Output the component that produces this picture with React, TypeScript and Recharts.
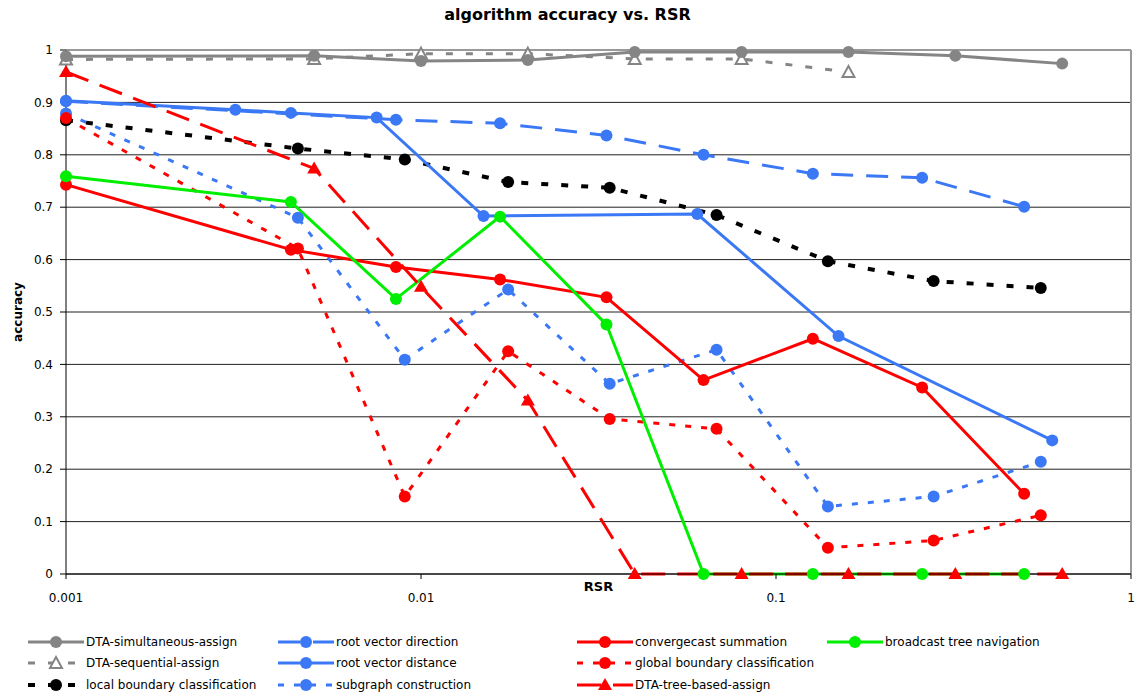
import React from 'react';
import {
  LineChart,
  Line,
  XAxis,
  YAxis,
  CartesianGrid,
  Legend,
  ReferenceLine,
} from 'recharts';

const FONT = '"DejaVu Sans", Verdana, sans-serif';

// RSR values (x) and accuracy (y)
const doublingRsr = [0.001, 0.005, 0.01, 0.02, 0.04, 0.08, 0.16, 0.32, 0.64];
const simultaneousAcc = [0.988, 0.989, 0.979, 0.981, 0.996, 0.996, 0.996, 0.989, 0.974];
const treeBasedAcc = [0.958, 0.774, 0.548, 0.331, 0, 0, 0, 0, 0];

const sequentialRsr = [0.001, 0.005, 0.01, 0.02, 0.04, 0.08, 0.16];
const sequentialAcc = [0.982, 0.983, 0.993, 0.993, 0.983, 0.983, 0.958];

const boundaryRsr = [0.001, 0.0045, 0.009, 0.0176, 0.034, 0.068, 0.14, 0.278, 0.557];
const localBoundaryAcc = [0.866, 0.812, 0.791, 0.748, 0.737, 0.685, 0.597, 0.559, 0.546];
const globalBoundaryAcc = [0.87, 0.621, 0.148, 0.425, 0.296, 0.277, 0.05, 0.064, 0.112];
const subgraphAcc = [0.879, 0.68, 0.409, 0.543, 0.363, 0.428, 0.129, 0.148, 0.214];

const treeRsr = [0.001, 0.0043, 0.0085, 0.0167, 0.0333, 0.0625, 0.127, 0.258, 0.5];
const convergecastAcc = [0.743, 0.619, 0.586, 0.562, 0.528, 0.37, 0.449, 0.356, 0.153];
const broadcastAcc = [0.759, 0.71, 0.525, 0.682, 0.476, 0, 0, 0, 0];

const directionRsr = [0.001, 0.0085, 0.0167, 0.0333, 0.0625, 0.127, 0.258, 0.5];
const directionAcc = [0.902, 0.867, 0.86, 0.837, 0.8, 0.764, 0.756, 0.701];

const distanceRsr = [0.001, 0.003, 0.0043, 0.0075, 0.015, 0.06, 0.15, 0.6];
const distanceAcc = [0.903, 0.886, 0.88, 0.871, 0.683, 0.687, 0.454, 0.255];

const xTicks = [0.001, 0.01, 0.1, 1];
const yTicks = [0, 0.1, 0.2, 0.3, 0.4, 0.5, 0.6, 0.7, 0.8, 0.9, 1];

const GRAY = '#858585';
const BLUE = '#3b78f5';
const RED = '#ff0000';
const GREEN = '#00ee00';

type Marker = 'circle' | 'triangle' | 'hollow';

type Series = {
  name: string;
  data: { rsr: number; acc: number }[];
  color: string;
  width: number;
  dash?: string;
  marker: Marker;
  z: number;
};

const zip = (xs: number[], ys: number[]) => xs.map((x, i) => ({ rsr: x, acc: ys[i] }));

// legend order (column-major, 3 rows)
const series: Series[] = [
  { name: 'DTA-simultaneous-assign', data: zip(doublingRsr, simultaneousAcc), color: GRAY, width: 3, marker: 'circle', z: 1 },
  { name: 'DTA-sequential-assign', data: zip(sequentialRsr, sequentialAcc), color: GRAY, width: 3, dash: '7 13', marker: 'hollow', z: 0 },
  { name: 'local boundary classification', data: zip(boundaryRsr, localBoundaryAcc), color: '#000', width: 4, dash: '7 13', marker: 'circle', z: 2 },
  { name: 'root vector direction', data: zip(directionRsr, directionAcc), color: BLUE, width: 3, dash: '22 13', marker: 'circle', z: 3 },
  { name: 'root vector distance', data: zip(distanceRsr, distanceAcc), color: BLUE, width: 3, marker: 'circle', z: 4 },
  { name: 'subgraph construction', data: zip(boundaryRsr, subgraphAcc), color: BLUE, width: 3, dash: '6 10', marker: 'circle', z: 5 },
  { name: 'convergecast summation', data: zip(treeRsr, convergecastAcc), color: RED, width: 3, marker: 'circle', z: 7 },
  { name: 'global boundary classification', data: zip(boundaryRsr, globalBoundaryAcc), color: RED, width: 3, dash: '6 10', marker: 'circle', z: 6 },
  { name: 'DTA-tree-based-assign', data: zip(doublingRsr, treeBasedAcc), color: RED, width: 3, dash: '24 12', marker: 'triangle', z: 9 },
  { name: 'broadcast tree navigation', data: zip(treeRsr, broadcastAcc), color: GREEN, width: 3, marker: 'circle', z: 8 },
];

function markerShape(marker: Marker, color: string, cx: number, cy: number, key?: string) {
  if (marker === 'circle') return <circle key={key} cx={cx} cy={cy} r={6} fill={color} />;
  if (marker === 'triangle')
    return <path key={key} d={`M${cx},${cy - 7}L${cx + 7},${cy + 5}L${cx - 7},${cy + 5}Z`} fill={color} />;
  return (
    <path
      key={key}
      d={`M${cx},${cy - 6}L${cx + 6},${cy + 5}L${cx - 6},${cy + 5}Z`}
      fill="#fff"
      stroke={color}
      strokeWidth={2}
    />
  );
}

const makeDot = (marker: Marker, color: string) => (props: any) => {
  const { cx, cy, index } = props;
  const key = `dot-${index}`;
  if (cx == null || cy == null) return <g key={key} />;
  return markerShape(marker, color, cx, cy, key);
};

const legendCols = [28, 278, 577, 827];
const legendRows = [642, 663, 685];
const LEGEND_TOP = 628;

function ChartLegend() {
  return (
    <div style={{ position: 'relative', width: 1135, height: 68, fontFamily: FONT, fontSize: 12 }}>
      {series.map((s, i) => {
        const left = legendCols[Math.floor(i / 3)];
        const top = legendRows[i % 3] - LEGEND_TOP - 8;
        return (
          <div key={s.name} style={{ position: 'absolute', left, top, height: 16, display: 'flex', alignItems: 'center' }}>
            <svg width={56} height={16} style={{ display: 'block' }}>
              <line x1={0} y1={8} x2={56} y2={8} stroke={s.color} strokeWidth={s.width} strokeDasharray={s.dash} />
              {markerShape(s.marker, s.color, 28, 8)}
            </svg>
            <span style={{ marginLeft: 2, color: '#000', whiteSpace: 'nowrap' }}>{s.name}</span>
          </div>
        );
      })}
    </div>
  );
}

export default function App() {
  const drawOrder = [...series].sort((a, b) => a.z - b.z);
  return (
    <div style={{ position: 'absolute', left: 0, top: 0, width: 1135, height: 696, background: '#fff' }}>
      <div
        style={{
          position: 'absolute',
          top: 5,
          left: 0,
          width: 1135,
          textAlign: 'center',
          fontFamily: FONT,
          fontWeight: 'bold',
          fontSize: 16,
          color: '#000',
        }}
      >
        algorithm accuracy vs. RSR
      </div>
      <LineChart width={1135} height={696} margin={{ top: 50, right: 4, left: 10, bottom: 92 }}>
        <CartesianGrid horizontal vertical={false} stroke="#222" strokeWidth={1} />
        <XAxis
          dataKey="rsr"
          type="number"
          scale="log"
          domain={[0.001, 1]}
          ticks={xTicks}
          tickFormatter={(v: number) => String(v)}
          allowDuplicatedCategory={false}
          height={30}
          stroke="#000"
          tickSize={5}
          tickMargin={14}
          tick={{ fill: '#000', fontSize: 12, fontFamily: FONT }}
          label={{
            value: 'RSR',
            position: 'insideTop',
            offset: 8,
            style: { fontWeight: 'bold', fontSize: 13, fontFamily: FONT, fill: '#000' },
          }}
        />
        <YAxis
          type="number"
          domain={[0, 1]}
          ticks={yTicks}
          width={56}
          stroke="#000"
          tickSize={6}
          tickMargin={7}
          tick={{ fill: '#000', fontSize: 12, fontFamily: FONT }}
          label={{
            value: 'accuracy',
            angle: -90,
            position: 'insideLeft',
            offset: 8,
            style: { textAnchor: 'middle', fontWeight: 'bold', fontSize: 12, fontFamily: FONT, fill: '#000' },
          }}
        />
        <ReferenceLine y={1} stroke="#999" strokeWidth={2} />
        <ReferenceLine x={1} stroke="#999" strokeWidth={2} />
        {drawOrder.map((s) => (
          <Line
            key={s.name}
            name={s.name}
            data={s.data}
            dataKey="acc"
            type="linear"
            stroke={s.color}
            strokeWidth={s.width}
            strokeDasharray={s.dash}
            dot={makeDot(s.marker, s.color)}
            activeDot={false}
            isAnimationActive={false}
          />
        ))}
        <Legend
          layout="horizontal"
          verticalAlign="middle"
          align="center"
          wrapperStyle={{ top: LEGEND_TOP, left: 0, width: 1135, height: 68 }}
          content={() => <ChartLegend />}
        />
      </LineChart>
    </div>
  );
}
